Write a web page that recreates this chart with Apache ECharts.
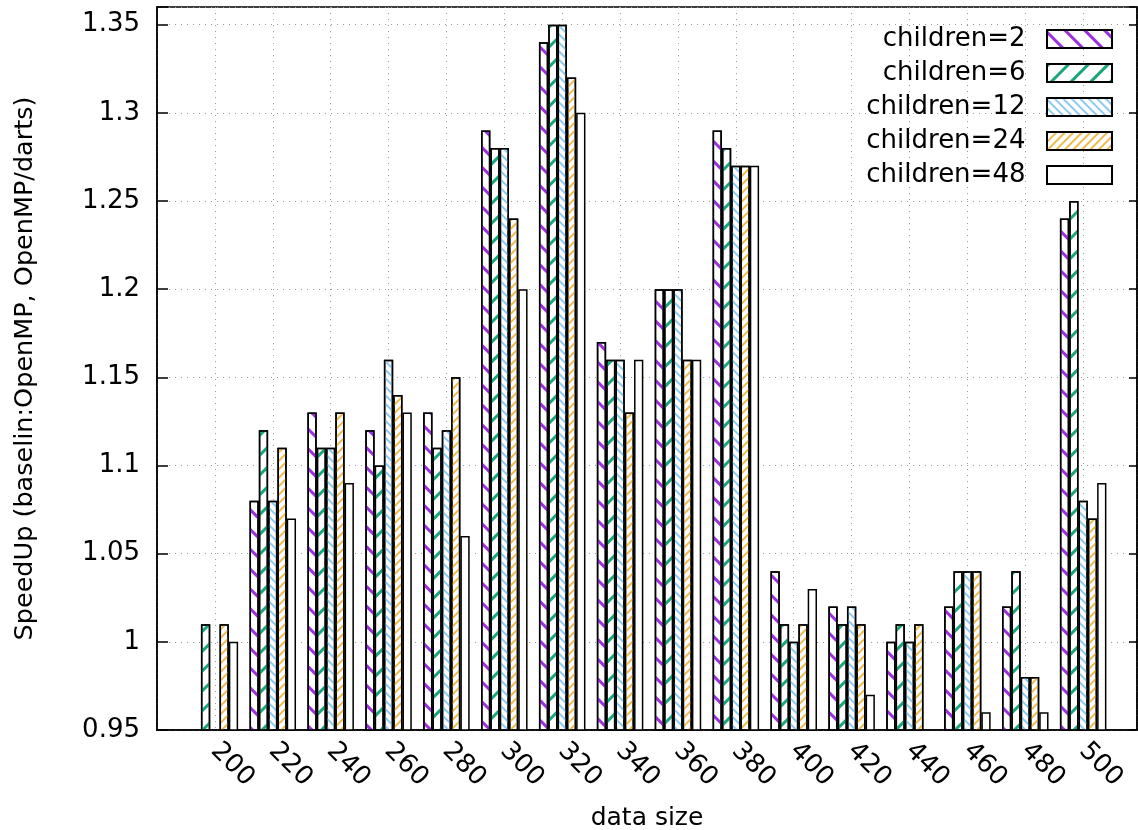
<!DOCTYPE html>
<html>
<head>
<meta charset="utf-8">
<script src="https://cdn.jsdelivr.net/npm/echarts@6/dist/echarts.min.js"></script>
<style>
  html, body { margin: 0; padding: 0; background: #fff; }
  #chartBox { width: 1138px; height: 830px; }
</style>
</head>
<body>
<div id="chartBox"></div>
<script>
// data size groups
let sizes = ['200', '220', '240', '260', '280', '300', '320', '340', '360', '380', '400', '420', '440', '460', '480', '500']
// speedup per children count (null = below the axis, not drawn)
let children2 = [null, 1.08, 1.13, 1.12, 1.13, 1.29, 1.34, 1.17, 1.20, 1.29, 1.04, 1.02, 1.00, 1.02, 1.02, 1.24]
let children6 = [1.01, 1.12, 1.11, 1.10, 1.11, 1.28, 1.35, 1.16, 1.20, 1.28, 1.01, 1.01, 1.01, 1.04, 1.04, 1.25]
let children12 = [null, 1.08, 1.11, 1.16, 1.12, 1.28, 1.35, 1.16, 1.20, 1.27, 1.00, 1.02, 1.00, 1.04, 0.98, 1.08]
let children24 = [1.01, 1.11, 1.13, 1.14, 1.15, 1.24, 1.32, 1.13, 1.16, 1.27, 1.01, 1.01, 1.01, 1.04, 0.98, 1.07]
let children48 = [1.00, 1.07, 1.09, 1.13, 1.06, 1.20, 1.30, 1.16, 1.16, 1.27, 1.03, 0.97, null, 0.96, 0.96, 1.09]

let font = 'DejaVu Sans'
let grid = { type: [1, 5], color: '#9a9a9a', width: 1 }

function hatch (color, width, gap, rot) {
  return { symbol: 'rect', symbolSize: 1, color: color, dashArrayX: [1, 0], dashArrayY: [width, gap], rotation: rot }
}

function bar (name, values, decal) {
  return {
    name: name,
    type: 'bar',
    barWidth: 9.3,
    barGap: '0%',
    data: values.map((v, i) => [i, v]),
    itemStyle: {
      color: '#fff',
      borderColor: '#000',
      borderWidth: 1.5,
      decal: decal
    }
  }
}

let myChart = echarts.init(document.getElementById('chartBox'))
myChart.setOption({
  animation: false,
  backgroundColor: '#fff',
  textStyle: { fontFamily: font, color: '#000' },
  grid: {
    left: 157, top: 7, right: 1, bottom: 100,
    containLabel: false,
    outerBoundsMode: 'none',
    show: true, borderColor: '#000', borderWidth: 1.5
  },
  legend: {
    orient: 'vertical',
    align: 'right',
    right: 25,
    top: 26,
    padding: 0,
    itemWidth: 65,
    itemHeight: 18,
    itemGap: 8,
    icon: 'rect',
    formatter: name => name + '  ',
    textStyle: { fontFamily: font, fontSize: 26, color: '#000' }
  },
  xAxis: {
    type: 'value',
    min: -1,
    max: 15.93,
    interval: 1,
    name: 'data size',
    nameLocation: 'middle',
    nameGap: 76,
    nameTextStyle: { fontFamily: font, fontSize: 25, color: '#000' },
    axisLine: { onZero: false, lineStyle: { color: '#000', width: 1.5 } },
    axisTick: { show: false },
    axisLabel: {
      rotate: -45,
      margin: 17,
      fontFamily: font,
      fontSize: 26,
      color: '#000',
      formatter: v => {
        let i = Math.round(v)
        return Math.abs(v - i) < 1e-6 && i >= 0 && i < sizes.length ? sizes[i] : ''
      }
    },
    splitLine: { show: true, lineStyle: grid }
  },
  yAxis: [{
    type: 'value',
    min: 0.95,
    max: 1.36,
    interval: 0.05,
    name: 'SpeedUp (baselin:OpenMP, OpenMP/darts)',
    nameLocation: 'middle',
    nameGap: 119,
    nameTextStyle: { fontFamily: font, fontSize: 25.5, color: '#000' },
    axisLine: { show: true, onZero: false, lineStyle: { color: '#000', width: 1.5 } },
    axisTick: { show: true, inside: true, length: 11, lineStyle: { color: '#000', width: 1.5 } },
    axisLabel: {
      margin: 17,
      fontFamily: font,
      fontSize: 26,
      color: '#000',
      formatter: v => Math.abs(v * 20 - Math.round(v * 20)) < 1e-6 ? String(+v.toFixed(2)) : ''
    },
    splitLine: { show: true, lineStyle: grid }
  }, {
    type: 'value',
    position: 'right',
    min: 0.95,
    max: 1.36,
    interval: 0.05,
    axisLine: { show: true, onZero: false, lineStyle: { color: '#000', width: 1.5 } },
    axisTick: { show: true, inside: true, length: 8, lineStyle: { color: '#000', width: 1.5 } },
    axisLabel: { show: false },
    splitLine: { show: false }
  }],
  series: [
    bar('children=2', children2, hatch('#9b30dc', 2.6, 11, Math.PI / 4)),
    bar('children=6', children6, hatch('#1aa57c', 2.6, 11, -Math.PI / 4)),
    bar('children=12', children12, hatch('#8ccbef', 1.2, 3.8, Math.PI / 4)),
    bar('children=24', children24, hatch('#eebb50', 1.2, 3.8, -Math.PI / 4)),
    bar('children=48', children48, null)
  ]
})
</script>
</body>
</html>
